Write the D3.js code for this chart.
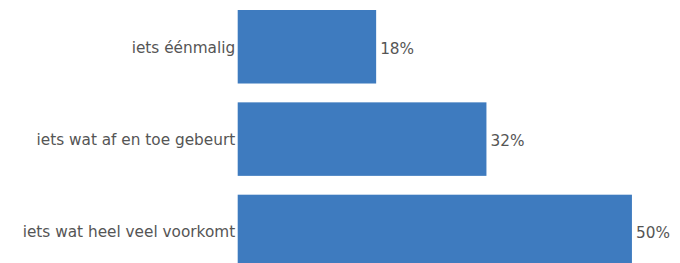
<!DOCTYPE html>
<html>
<head>
<meta charset="utf-8">
<script src="https://cdn.jsdelivr.net/npm/d3@7"></script>
<style>
  html, body { margin: 0; padding: 0; background: #fff; overflow: hidden; }
  svg { display: block; }
</style>
</head>
<body>
<svg id="chart" width="680" height="263"></svg>
<script>
const categories = ["iets éénmalig", "iets wat af en toe gebeurt", "iets wat heel veel voorkomt"];
const values = [17.7, 31.8, 50.4];
const valueLabels = ["18%", "32%", "50%"];

const svg = d3.select("#chart");
const left = 237.7;
const xMax = 56.5;
const pxPerUnit = 7.822;

const x = d3.scaleLinear().domain([0, xMax]).range([left, left + xMax * pxPerUnit]);

const step = 92.35;
const padIn = 0.204, padOut = 0.1;
const y0 = 10 - padOut * step;
const y = d3.scaleBand()
  .domain(categories)
  .range([y0, y0 + step * (categories.length - padIn + 2 * padOut)])
  .paddingInner(padIn)
  .paddingOuter(padOut);

const data = categories.map((c, i) => ({ c, v: values[i], label: valueLabels[i] }));

svg.selectAll("rect.bar").data(data).join("rect")
  .attr("class", "bar")
  .attr("x", x(0))
  .attr("y", d => y(d.c))
  .attr("width", d => x(d.v) - x(0))
  .attr("height", y.bandwidth())
  .attr("fill", "#3e7bbf");

const font = "'DejaVu Sans', Verdana, sans-serif";

svg.selectAll("text.cat").data(data).join("text")
  .attr("class", "cat")
  .attr("x", x(0) - 2.5)
  .attr("y", d => y(d.c) + y.bandwidth() / 2 + 0.5)
  .attr("dy", "0.35em")
  .attr("text-anchor", "end")
  .attr("font-family", font)
  .attr("font-size", "15.3px")
  .attr("fill", "#555")
  .text(d => d.c);

svg.selectAll("text.val").data(data).join("text")
  .attr("class", "val")
  .attr("x", d => x(d.v) + 4)
  .attr("y", d => y(d.c) + y.bandwidth() / 2 + 1.5)
  .attr("dy", "0.35em")
  .attr("text-anchor", "start")
  .attr("font-family", font)
  .attr("font-size", "15.3px")
  .attr("fill", "#555")
  .text(d => d.label);
</script>
</body>
</html>
